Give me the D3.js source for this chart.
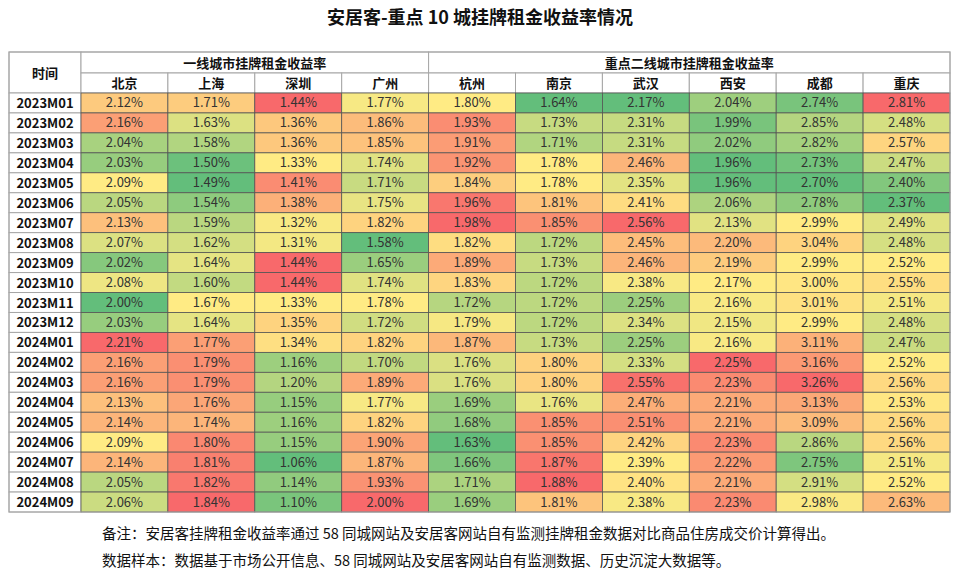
<!DOCTYPE html>
<html>
<head>
<meta charset="utf-8">
<script src="https://cdn.jsdelivr.net/npm/d3@7"></script>
<style>
  body { margin: 0; background: #fff; }
  svg { font-family: "Noto Sans CJK SC", "Noto Sans", sans-serif; }
</style>
</head>
<body>
<div id="chart"></div>
<script>
const width = 960;
const height = 575;

const months = ["2023M01","2023M02","2023M03","2023M04","2023M05","2023M06","2023M07","2023M08","2023M09","2023M10","2023M11","2023M12",
  "2024M01","2024M02","2024M03","2024M04","2024M05","2024M06","2024M07","2024M08","2024M09"];
const tier1 = ["北京","上海","深圳","广州"];
const tier2 = ["杭州","南京","武汉","西安","成都","重庆"];
const groupNames = ["一线城市挂牌租金收益率","重点二线城市挂牌租金收益率"];

// rental yield (%) per city, one value per month
const beijing   = [2.12,2.16,2.04,2.03,2.09,2.05,2.13,2.07,2.02,2.08,2.00,2.03,2.21,2.16,2.16,2.13,2.14,2.09,2.14,2.05,2.06];
const shanghai  = [1.71,1.63,1.58,1.50,1.49,1.54,1.59,1.62,1.64,1.60,1.67,1.64,1.77,1.79,1.79,1.76,1.74,1.80,1.81,1.82,1.84];
const shenzhen  = [1.44,1.36,1.36,1.33,1.41,1.38,1.32,1.31,1.44,1.44,1.33,1.35,1.34,1.16,1.20,1.15,1.16,1.15,1.06,1.14,1.10];
const guangzhou = [1.77,1.86,1.85,1.74,1.71,1.75,1.82,1.58,1.65,1.74,1.78,1.72,1.82,1.70,1.89,1.77,1.82,1.90,1.87,1.93,2.00];
const hangzhou  = [1.80,1.93,1.91,1.92,1.84,1.96,1.98,1.82,1.89,1.83,1.72,1.79,1.87,1.76,1.76,1.69,1.68,1.63,1.66,1.71,1.69];
const nanjing   = [1.64,1.73,1.71,1.78,1.78,1.81,1.85,1.72,1.73,1.72,1.72,1.72,1.73,1.80,1.80,1.76,1.85,1.85,1.87,1.88,1.81];
const wuhan     = [2.17,2.31,2.31,2.46,2.35,2.41,2.56,2.45,2.46,2.38,2.25,2.34,2.25,2.33,2.55,2.47,2.51,2.42,2.39,2.40,2.38];
const xian      = [2.04,1.99,2.02,1.96,1.96,2.06,2.13,2.20,2.19,2.17,2.16,2.15,2.16,2.25,2.23,2.21,2.21,2.23,2.22,2.21,2.23];
const chengdu   = [2.74,2.85,2.82,2.73,2.70,2.78,2.99,3.04,2.99,3.00,3.01,2.99,3.11,3.16,3.26,3.13,3.09,2.86,2.75,2.91,2.98];
const chongqing = [2.81,2.48,2.57,2.47,2.40,2.37,2.49,2.48,2.52,2.55,2.51,2.48,2.47,2.52,2.56,2.53,2.56,2.56,2.51,2.52,2.63];

const cities = tier1.concat(tier2);
const series = [beijing, shanghai, shenzhen, guangzhou, hangzhou, nanjing, wuhan, xian, chengdu, chongqing];

const notes = [
  "备注：安居客挂牌租金收益率通过 58 同城网站及安居客网站自有监测挂牌租金数据对比商品住房成交价计算得出。",
  "数据样本：数据基于市场公开信息、58 同城网站及安居客网站自有监测数据、历史沉淀大数据等。"
];

const tableLeft = 9, timeRight = 81, tableRight = 950;
const headTop = 52, subTop = 73, bodyTop = 93, bodyBottom = 512;
const headGrey = "#a6a6a6";

const svg = d3.select("#chart").append("svg")
  .attr("width", width)
  .attr("height", height);

svg.append("text")
  .attr("x", 480)
  .attr("y", 24)
  .attr("text-anchor", "middle")
  .style("font-size", "18px")
  .style("font-weight", "bold")
  .attr("fill", "#111")
  .text("安居客-重点 10 城挂牌租金收益率情况");

var x = d3.scaleBand()
  .domain(cities)
  .range([timeRight, tableRight]);

var y = d3.scaleBand()
  .domain(months)
  .range([bodyTop, bodyBottom]);

// per-column 3-colour scale: low green, median yellow, high red
var colorScales = series.map(function(vals) {
  var sorted = vals.slice().sort(d3.ascending);
  return d3.scaleLinear()
    .domain([d3.min(vals), d3.quantile(sorted, 0.5), d3.max(vals)])
    .range(["#63BE7B", "#FFEB84", "#F8696B"])
    .interpolate(d3.interpolateRgb);
});

var cells = [];
series.forEach(function(vals, ci) {
  vals.forEach(function(v, mi) {
    cells.push({city: cities[ci], month: months[mi], value: v, col: ci});
  });
});

// header: time cell
svg.append("rect")
  .attr("x", tableLeft).attr("y", headTop)
  .attr("width", timeRight - tableLeft).attr("height", bodyTop - headTop)
  .attr("fill", "white").attr("stroke", headGrey);
svg.append("text")
  .attr("x", (tableLeft + timeRight) / 2)
  .attr("y", (headTop + bodyTop) / 2 + 5)
  .attr("text-anchor", "middle")
  .style("font-size", "13px").style("font-weight", "bold")
  .attr("fill", "#111")
  .text("时间");

// header: group cells
var groups = [
  {name: groupNames[0], x0: x(tier1[0]), x1: x(tier1[tier1.length - 1]) + x.bandwidth()},
  {name: groupNames[1], x0: x(tier2[0]), x1: x(tier2[tier2.length - 1]) + x.bandwidth()}
];
svg.selectAll("rect.group")
  .data(groups)
  .enter()
  .append("rect")
  .attr("class", "group")
  .attr("x", d => d.x0).attr("y", headTop)
  .attr("width", d => d.x1 - d.x0).attr("height", subTop - headTop)
  .attr("fill", "white").attr("stroke", headGrey);
svg.selectAll("text.group")
  .data(groups)
  .enter()
  .append("text")
  .attr("class", "group")
  .attr("x", d => (d.x0 + d.x1) / 2)
  .attr("y", (headTop + subTop) / 2 + 5)
  .attr("text-anchor", "middle")
  .style("font-size", "13px").style("font-weight", "bold")
  .attr("fill", "#111")
  .text(d => d.name);

// header: city cells
svg.selectAll("rect.city")
  .data(cities)
  .enter()
  .append("rect")
  .attr("class", "city")
  .attr("x", d => x(d)).attr("y", subTop)
  .attr("width", x.bandwidth()).attr("height", bodyTop - subTop)
  .attr("fill", "white").attr("stroke", headGrey);
svg.selectAll("text.city")
  .data(cities)
  .enter()
  .append("text")
  .attr("class", "city")
  .attr("x", d => x(d) + x.bandwidth() / 2)
  .attr("y", (subTop + bodyTop) / 2 + 5)
  .attr("text-anchor", "middle")
  .style("font-size", "13px").style("font-weight", "bold")
  .attr("fill", "#111")
  .text(d => d);

// month column
svg.selectAll("rect.month")
  .data(months)
  .enter()
  .append("rect")
  .attr("class", "month")
  .attr("x", tableLeft).attr("y", d => y(d))
  .attr("width", timeRight - tableLeft).attr("height", y.bandwidth())
  .attr("fill", "white").attr("stroke", headGrey);
svg.selectAll("text.month")
  .data(months)
  .enter()
  .append("text")
  .attr("class", "month")
  .attr("x", (tableLeft + timeRight) / 2)
  .attr("y", d => y(d) + y.bandwidth() / 2 + 5)
  .attr("text-anchor", "middle")
  .style("font-size", "13px").style("font-weight", "bold")
  .attr("fill", "#111")
  .text(d => d);

// value cells
svg.selectAll("rect.cell")
  .data(cells)
  .enter()
  .append("rect")
  .attr("class", "cell")
  .attr("x", d => x(d.city)).attr("y", d => y(d.month))
  .attr("width", x.bandwidth()).attr("height", y.bandwidth())
  .attr("fill", d => colorScales[d.col](d.value))
  .attr("stroke", "#555")
  .attr("stroke-width", 0.8);
svg.selectAll("text.cell")
  .data(cells)
  .enter()
  .append("text")
  .attr("class", "cell")
  .attr("x", d => x(d.city) + x.bandwidth() / 2)
  .attr("y", d => y(d.month) + y.bandwidth() / 2 + 4.5)
  .attr("text-anchor", "middle")
  .style("font-size", "13px")
  .attr("fill", "#333")
  .text(d => d.value.toFixed(2) + "%");

// outer frame
svg.append("rect")
  .attr("x", tableLeft).attr("y", headTop)
  .attr("width", tableRight - tableLeft).attr("height", bodyBottom - headTop)
  .attr("fill", "none").attr("stroke", headGrey);

svg.selectAll("text.note")
  .data(notes)
  .enter()
  .append("text")
  .attr("class", "note")
  .attr("x", 102)
  .attr("y", (d, i) => 539 + i * 27)
  .style("font-size", "14.5px")
  .attr("fill", "#111")
  .text(d => d);
</script>
</body>
</html>
